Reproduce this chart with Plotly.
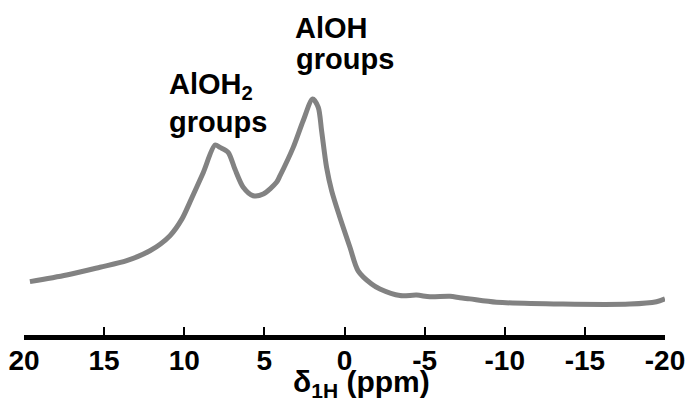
import plotly.graph_objects as go

# chemical shift (ppm) and relative intensity
shift_ppm = [19.63, 17.34, 15.26, 13.59, 12.14, 10.89, 10.14, 9.64, 8.81, 8.08,
             7.77, 7.26, 6.84, 6.32, 5.70, 5.07, 4.24, 4.03, 3.20, 2.58,
             1.99, 1.64, 1.43, 1.12, 0.80, 0.29, -0.34, -0.85, -1.69, -2.21,
             -3.46, -4.50, -5.33, -6.58, -7.20, -7.82, -9.49, -13.62, -17.80, -19.47, -20.0]
intensity = [22.6, 25.4, 28.7, 31.5, 35.7, 42.1, 49.2, 56.4, 68.9, 80.5,
             79.5, 77.4, 70.3, 62.6, 59.0, 59.7, 64.7, 67.4, 79.5, 90.8,
             100.0, 96.5, 86.6, 71.1, 61.1, 49.9, 37.2, 27.2, 21.6, 19.5,
             16.7, 16.9, 16.2, 16.4, 15.8, 15.3, 13.9, 13.1, 13.1, 14.1, 15.3]

tick_vals = [20, 15, 10, 5, 0, -5, -10, -15, -20]
tick_text = ["20", "15", "10", "5", "0", "-5", "-10", "-15", "-20"]

FONT = "Liberation Sans, Arial, sans-serif"

fig = go.Figure()
fig.add_trace(go.Scatter(
    x=shift_ppm, y=intensity, mode="lines",
    line=dict(color="#828282", width=5, shape="spline", smoothing=0.8),
    hoverinfo="skip", showlegend=False,
))

W, H = 695, 398
L, R, T, B = 24, 30, 0, 63
ph = H - T - B

def ypaper(px):
    return (H - B - px) / ph

def xpaper(px):
    return (px - L) / (W - L - R)

ann = []
def add(text, xpx, ypx, size=29, xanchor="left"):
    ann.append(dict(text=text, xref="paper", yref="paper", x=xpaper(xpx), y=ypaper(ypx),
                    xanchor=xanchor, yanchor="middle", showarrow=False,
                    font=dict(family=FONT, size=size, color="black", weight="bold")))

add("AlOH", 293, 28)
add("groups", 294, 59)
add("AlOH<sub>2</sub>", 167, 86)
add("groups", 167, 122)
add("δ<sub>1H</sub> (ppm)", 362, 383, size=30, xanchor="center")

fig.update_layout(
    width=W, height=H,
    margin=dict(l=L, r=R, t=T, b=B, pad=0),
    paper_bgcolor="white", plot_bgcolor="white",
    xaxis=dict(range=[20, -20], tickvals=tick_vals, ticktext=tick_text,
               showline=True, linewidth=5, linecolor="black",
               ticks="inside", ticklen=8, tickwidth=1.5, tickcolor="black",
               showgrid=False, zeroline=False, ticklabelstandoff=-4,
               tickfont=dict(family=FONT, size=28, color="black", weight="bold")),
    yaxis=dict(range=[0, ph / 2.36], visible=False, showgrid=False, zeroline=False),
    annotations=ann,
)

fig.write_html("out.html")
